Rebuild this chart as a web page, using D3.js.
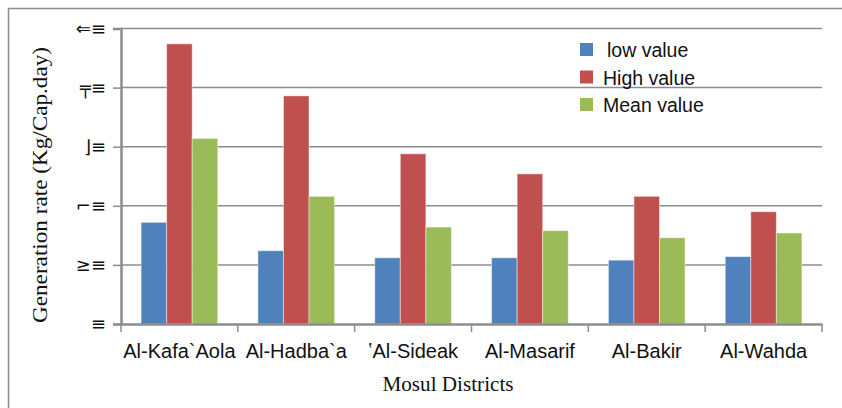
<!DOCTYPE html>
<html>
<head>
<meta charset="utf-8">
<script src="https://cdn.jsdelivr.net/npm/d3@7"></script>
<style>
  html, body { margin: 0; padding: 0; background: #fff; }
  svg { display: block; }
</style>
</head>
<body>
<svg id="chart" width="842" height="408"></svg>
<script>
// ── DATA ─────────────────────────────────────────────────────────────────────
const districts  = ['Al-Kafa`Aola', 'Al-Hadba`a', '\u02BDAl-Sideak', 'Al-Masarif', 'Al-Bakir', 'Al-Wahda'];
const seriesNames = ['low value', 'High value', 'Mean value'];
const lowValues  = [0.86, 0.62, 0.56, 0.56, 0.54, 0.57];
const highValues = [2.37, 1.93, 1.44, 1.27, 1.08, 0.95];
const meanValues = [1.57, 1.08, 0.82, 0.79, 0.73, 0.77];
const yTicks      = [0, 0.5, 1, 1.5, 2, 2.5];
// tick labels come out as broken glyphs in the source figure
const yTickLabels = ['\u2261', '\u2265\u2261', '\u2310\u2261', '\u230B\u2261', '\u2564\u2261', '\u21D0\u2261'];

// ── SETUP ────────────────────────────────────────────────────────────────────
const colors = ['#4f81bd', '#c0504d', '#9bbb59'];
const grey = '#8c8c8c';
const svg = d3.select('#chart');
const plot = { left: 121, right: 822, top: 28.5, bottom: 324 };

// outer frame
svg.append('rect')
  .attr('x', 8.5).attr('y', 8.5).attr('width', 860).attr('height', 420)
  .attr('fill', 'none').attr('stroke', grey).attr('stroke-width', 1.5);

const x = d3.scaleBand().domain(districts).range([plot.left, plot.right]);
// bars of one group cover ~65% of the category
const xs = d3.scaleBand().domain(d3.range(3)).range([x.bandwidth() * 0.172, x.bandwidth() * 0.828]);
const y = d3.scaleLinear().domain([0, 2.5]).range([plot.bottom, plot.top]);

// gridlines
svg.append('g')
  .selectAll('line')
  .data(yTicks.slice(1))
  .join('line')
  .attr('x1', plot.left).attr('x2', plot.right)
  .attr('y1', d => y(d)).attr('y2', d => y(d))
  .attr('stroke', grey).attr('stroke-width', 1.5);

// bars
const rows = districts.map((d, i) => ({ d, vals: [lowValues[i], highValues[i], meanValues[i]] }));
svg.append('g')
  .selectAll('g')
  .data(rows)
  .join('g')
  .attr('transform', r => `translate(${x(r.d)},0)`)
  .selectAll('rect')
  .data(r => r.vals.map((v, k) => ({ v, k })))
  .join('rect')
  .attr('x', b => xs(b.k))
  .attr('width', xs.bandwidth())
  .attr('y', b => y(b.v))
  .attr('height', b => y(0) - y(b.v))
  .attr('fill', b => colors[b.k])
  .attr('stroke', '#ffffff').attr('stroke-opacity', 0.45).attr('stroke-width', 1);

// y axis
const yAxis = d3.axisLeft(y).tickValues(yTicks).tickSize(8).tickFormat((d, i) => yTickLabels[i]);
const gy = svg.append('g').attr('transform', `translate(${plot.left},0)`).call(yAxis);
gy.select('.domain').attr('stroke', grey).attr('stroke-width', 2.5);
gy.selectAll('.tick line').attr('stroke', grey).attr('stroke-width', 1.5);
gy.selectAll('.tick text')
  .attr('x', -15)
  .attr('font-family', 'DejaVu Sans').attr('font-size', 18).attr('fill', '#111');

// x axis
const xAxis = d3.axisBottom(x).tickSize(0).tickFormat(d => d);
const gx = svg.append('g').attr('transform', `translate(0,${plot.bottom})`).call(xAxis);
gx.select('.domain').attr('stroke', grey).attr('stroke-width', 2.5);
gx.selectAll('.tick text')
  .attr('y', 34).attr('dy', 0)
  .attr('font-family', 'Liberation Sans, Arial, sans-serif').attr('font-size', 20).attr('fill', '#111');
// category separators
gx.append('g')
  .selectAll('line')
  .data(districts.map(d => x(d)).concat([plot.right]))
  .join('line')
  .attr('x1', d => d).attr('x2', d => d)
  .attr('y1', 0).attr('y2', 8)
  .attr('stroke', grey).attr('stroke-width', 1.5);

// axis titles
svg.append('text')
  .attr('x', 448).attr('y', 391)
  .attr('text-anchor', 'middle')
  .attr('textLength', 131).attr('lengthAdjust', 'spacingAndGlyphs')
  .attr('font-family', 'Liberation Serif, Times New Roman, serif').attr('font-size', 20).attr('fill', '#111')
  .text('Mosul Districts');

svg.append('text')
  .attr('transform', `translate(47,185) rotate(-90)`)
  .attr('text-anchor', 'middle')
  .attr('textLength', 276).attr('lengthAdjust', 'spacingAndGlyphs')
  .attr('font-family', 'Liberation Serif, Times New Roman, serif').attr('font-size', 20).attr('fill', '#111')
  .text('Generation rate (Kg/Cap.day)');

// legend
const legend = svg.append('g').attr('transform', 'translate(580,43)');
const li = legend.selectAll('g').data(seriesNames).join('g')
  .attr('transform', (d, i) => `translate(0,${i * 27.5})`);
li.append('rect').attr('width', 13).attr('height', 13).attr('fill', (d, i) => colors[i]);
li.append('text')
  .attr('x', (d, i) => i === 0 ? 27 : 23).attr('y', 14)
  .attr('font-family', 'Liberation Sans, Arial, sans-serif').attr('font-size', 19.5).attr('fill', '#111')
  .text(d => d);
</script>
</body>
</html>
